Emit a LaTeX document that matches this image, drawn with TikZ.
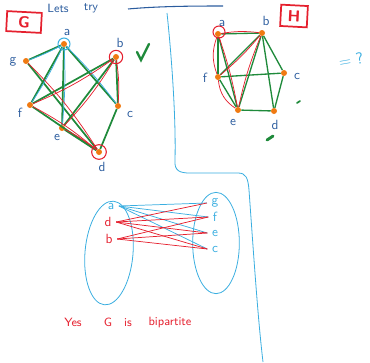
\documentclass[tikz,border=0pt]{standalone}
\usepackage{tikz}
\usetikzlibrary{positioning,calc,shapes.geometric}
\definecolor{inkblue}{HTML}{2B5C9E}
\definecolor{inkred}{HTML}{E5202E}
\definecolor{inkgreen}{HTML}{1F8A3B}
\definecolor{inkorange}{HTML}{F07A12}
\definecolor{inksky}{HTML}{3AAEE0}
\tikzset{
  vtx/.style={circle, fill=inkorange, inner sep=0pt, minimum size=4.5pt},
  lbl/.style={text=inkblue, font=\sffamily},
  gedge/.style={draw=inkgreen, line width=1.3pt},
  thinedge/.style={line width=0.55pt},
  ring/.style={circle, draw=#1, line width=0.8pt, minimum size=9pt, inner sep=0pt},
  tag/.style={draw=inkred, line width=1.3pt, text=inkred, font=\sffamily\large\bfseries, inner sep=0pt},
  oval/.style={ellipse, draw=inksky, line width=0.6pt, inner sep=0pt},
  note/.style={text=inkred, font=\sffamily\small, anchor=base},
}
\begin{document}
\begin{tikzpicture}[x=0.75pt, y=-0.75pt]
  \useasboundingbox (0,0) rectangle (370,362);
  % heading
  \node[lbl, font=\sffamily\small, anchor=north] (lets) at (58,-1) {Lets};
  \node[lbl, font=\sffamily\small, anchor=north] (try) at (91,-1) {try};
  \draw[inkblue, line width=0.8pt] (128,9) .. controls (160,6) and (200,6) .. (223,6);
  % divider
  \draw[inksky, line width=0.6pt] (167,13) .. controls (172,60) and (176,120) .. (175,160)
     .. controls (174,171) and (180,173) .. (190,173) -- (238,173)
     .. controls (246,173) and (248,178) .. (249,190)
     .. controls (254,260) and (258,320) .. (263,362);

  % graph G
  \node[tag, minimum width=26pt, minimum height=15pt, rotate=-3] (tagG) at (24,22) {G};
  \foreach \n/\x/\y in {a/64/44, b/116/57, g/26/61, f/30/105, c/118/106, e/62/128, d/99/152}
    \node[vtx] (G\n) at (\x,\y) {};
  \foreach \n/\x/\y in {a/67/32, b/120/43, g/13/62, f/20/113, c/130/114, e/57/137, d/102/167}
    \node[lbl] (GL\n) at (\x,\y) {\n};
  \foreach \u/\v in {a/g, a/f, a/e, a/c, g/d, f/d, e/d, c/d, b/f, b/e, b/c}
    \draw[gedge] (G\u) -- (G\v);
  \foreach \u/\v in {a/g, a/f, a/e, a/c}
    \draw[thinedge, inksky] (G\u) to[bend left=4] (G\v);
  \foreach \u/\v in {g/d, f/d, e/d, b/f, b/e, b/c}
    \draw[thinedge, inkred] (G\u) to[bend left=6] (G\v);
  \node[ring=inksky] (ringGa) at (Ga) {};
  \node[ring=inkred, minimum size=10pt] (ringGb) at (Gb) {};
  \node[ring=inkred, minimum size=11pt] (ringGd) at (Gd) {};
  \draw[inkgreen, line width=1.8pt, line cap=round] (137,52) -- (141,60) -- (149,44);

  % graph H
  \node[tag, minimum width=20pt, minimum height=16pt, rotate=-3] (tagH) at (294,16) {H};
  \foreach \n/\x/\y in {a/218/34, b/262/33, f/218/77, c/284/73, e/238/110, d/274/111}
    \node[vtx] (H\n) at (\x,\y) {};
  \foreach \n/\x/\y in {a/222/23, b/266/21, f/205/78, c/297/76, e/233/122, d/275/125}
    \node[lbl] (HL\n) at (\x,\y) {\n};
  \foreach \u/\v in {a/b, a/f, a/e, b/f, b/e, b/c, b/d, f/c, f/e, c/d, e/d}
    \draw[gedge, line width=1pt] (H\u) -- (H\v);
  \draw[thinedge, inkred] (Ha) to[bend left=8] (Hb);
  \draw[thinedge, inkred] (Ha) to[bend right=20] (Hf);
  \draw[thinedge, inkred] (Ha) to[bend left=4] (He);
  \draw[thinedge, inkred] (Hb) to[bend left=5] (Hf);
  \draw[thinedge, inkred] (Hb) to[bend right=5] (He);
  \draw[thinedge, inkred] (Hf) to[bend right=25] (He);
  \node[ring=inkred, minimum size=9pt] (ringHa) at (219,32) {};
  \node[text=inksky, font=\sffamily\large, rotate=10] (ask) at (351,60) {= ?};
  \draw[inkgreen, line width=1.3pt, line cap=round] (297,103) -- (300,101);
  \draw[inkgreen, line width=2.2pt, line cap=round] (267,140) -- (273,136);

  % bipartite picture
  \node[oval, minimum width=36pt, minimum height=78pt, rotate=-5] (left) at (109,253) {};
  \node[oval, minimum width=35pt, minimum height=76pt] (right) at (216,243) {};
  \node[text=inksky, font=\sffamily] (Ba) at (111,206) {a};
  \node[text=inkred, font=\sffamily] (Bd) at (108,222) {d};
  \node[text=inkred, font=\sffamily] (Bb) at (109,239) {b};
  \foreach \n/\y in {g/203, f/217, e/233, c/249}
    \node[text=inksky, font=\sffamily] (B\n) at (215,\y) {\n};
  \foreach \v in {g, f, e, c}
    \draw[thinedge, inksky] (Ba.east) -- (B\v.west);
  \foreach \v in {g, f, e, c}
    \draw[thinedge, inkred] (Bd.east) -- (B\v.west);
  \foreach \v in {f, e, c}
    \draw[thinedge, inkred] (Bb.east) -- (B\v.west);

  % verdict
  \node[note] (yes) at (73,326) {Yes};
  \node[note] (gname) at (108,326) {G};
  \node[note] (is) at (128,326) {is};
  \node[note] (bip) at (170,325) {bipartite};
\end{tikzpicture}
\end{document}
